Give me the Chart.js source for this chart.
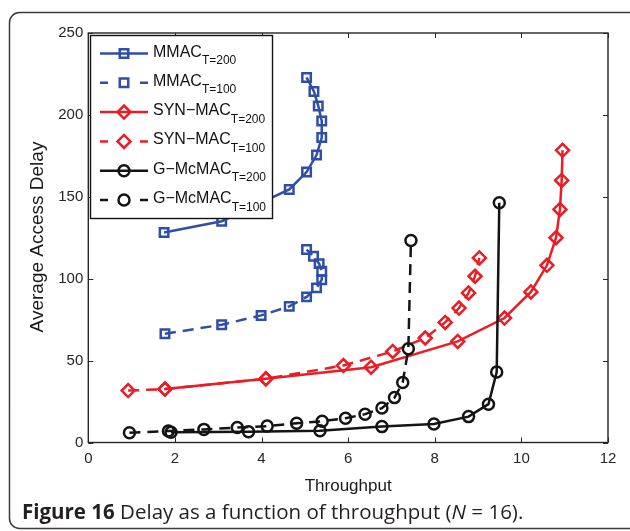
<!DOCTYPE html>
<html>
<head>
<meta charset="utf-8">
<style>
  html, body { margin: 0; padding: 0; background: #fff; }
  #wrap { position: relative; width: 630px; height: 531px; }
</style>
<script src="https://cdn.jsdelivr.net/npm/chart.js@4/dist/chart.umd.min.js"></script>
</head>
<body>
<div id="wrap"><canvas id="delayChart" width="630" height="531"></canvas></div>
<script>
// values (throughput, delay)
const mmac200X = [1.75, 3.08, 4.64, 5.04, 5.27, 5.39, 5.39, 5.31, 5.21, 5.04];
const mmac200Y = [128.2, 135.1, 154.5, 165.1, 175.5, 186.2, 196.3, 205.5, 214.3, 222.9];
const mmac100X = [1.77, 3.08, 3.99, 4.64, 5.04, 5.27, 5.39, 5.39, 5.33, 5.20, 5.04];
const mmac100Y = [66.4, 71.9, 77.6, 83.1, 88.9, 94.4, 99.4, 104.5, 109.2, 113.7, 117.8];
const syn200X = [1.77, 4.10, 6.53, 8.53, 9.61, 10.22, 10.59, 10.80, 10.89, 10.93, 10.95];
const syn200Y = [32.6, 38.9, 46.0, 61.7, 76.0, 91.9, 108.2, 125.0, 142.3, 160.0, 178.4];
const syn100X = [0.92, 1.77, 4.10, 5.89, 7.03, 7.78, 8.24, 8.56, 8.78, 8.93, 9.03];
const syn100Y = [31.7, 32.6, 38.9, 47.0, 55.6, 63.8, 73.3, 82.1, 91.3, 101.5, 112.7];
const gm200X = [1.91, 3.70, 5.35, 6.78, 7.98, 8.78, 9.24, 9.43, 9.49];
const gm200Y = [6.3, 6.6, 7.2, 9.7, 11.3, 15.8, 23.4, 43.0, 146.4];
const gm100X = [0.95, 1.85, 2.67, 3.44, 4.13, 4.81, 5.40, 5.94, 6.39, 6.78, 7.07, 7.26, 7.39, 7.45];
const gm100Y = [6.0, 7.0, 8.0, 9.1, 10.0, 11.7, 13.0, 14.8, 17.3, 21.0, 27.4, 36.6, 57.2, 123.3];

const seriesNames = ['MMAC', 'MMAC', 'SYN\u2212MAC', 'SYN\u2212MAC', 'G\u2212McMAC', 'G\u2212McMAC'];
const seriesSubs = ['T=200', 'T=100', 'T=200', 'T=100', 'T=200', 'T=100'];
const xTicks = [0, 2, 4, 6, 8, 10, 12];
const yTicks = [0, 50, 100, 150, 200, 250];

const BLUE = '#2f4ea8', RED = '#ec1c24', BLACK = '#141414';
const DASH = [11, 7];

function pts(xs, ys) {
  return xs.map(function (v, i) { return { x: v, y: ys[i] }; });
}

function series(idx, xs, ys, color, style, radius, dashed) {
  return {
    label: seriesNames[idx] + ' ' + seriesSubs[idx],
    data: pts(xs, ys),
    borderColor: color,
    backgroundColor: 'rgba(0,0,0,0)',
    borderWidth: 2.5,
    borderDash: dashed ? DASH : [],
    pointStyle: style,
    pointRadius: radius,
    pointBorderWidth: 2.5,
    pointBorderColor: color,
    pointBackgroundColor: 'rgba(0,0,0,0)',
    tension: 0,
    order: 6 - idx
  };
}

const datasets = [
  series(0, mmac200X, mmac200Y, BLUE, 'rect', 6, false),
  series(1, mmac100X, mmac100Y, BLUE, 'rect', 6, true),
  series(2, syn200X, syn200Y, RED, 'rectRot', 6.5, false),
  series(3, syn100X, syn100Y, RED, 'rectRot', 6.5, true),
  series(4, gm200X, gm200Y, BLACK, 'circle', 5.5, false),
  series(5, gm100X, gm100Y, BLACK, 'circle', 5.5, true)
];

const FONT = '"Liberation Sans", Arial, sans-serif';

// box, inward ticks, legend with subscripts, titles, caption, outer frame
const decor = {
  id: 'decor',
  afterDraw(chart) {
    const ctx = chart.ctx;
    const a = chart.chartArea;
    const xs = chart.scales.x, ys = chart.scales.y;
    ctx.save();

    ctx.strokeStyle = '#262626';
    ctx.lineWidth = 1.4;
    ctx.strokeRect(a.left, a.top, a.right - a.left, a.bottom - a.top);
    ctx.lineWidth = 1;
    ctx.beginPath();
    xTicks.forEach(function (t) {
      const px = Math.round(xs.getPixelForValue(t)) + 0.5;
      ctx.moveTo(px, a.bottom); ctx.lineTo(px, a.bottom - 5);
      ctx.moveTo(px, a.top); ctx.lineTo(px, a.top + 5);
    });
    yTicks.forEach(function (t) {
      const py = Math.round(ys.getPixelForValue(t)) + 0.5;
      ctx.moveTo(a.left, py); ctx.lineTo(a.left + 5, py);
      ctx.moveTo(a.right, py); ctx.lineTo(a.right - 5, py);
    });
    ctx.stroke();

    // legend
    const lx = 90.5, ly = 35.5, lw = 182, lh = 183;
    ctx.fillStyle = '#fff';
    ctx.fillRect(lx, ly, lw, lh);
    ctx.strokeStyle = '#111';
    ctx.lineWidth = 1.4;
    ctx.strokeRect(lx, ly, lw, lh);
    chart.data.datasets.forEach(function (ds, i) {
      const ry = 53.5 + i * 29.3;
      ctx.strokeStyle = ds.borderColor;
      ctx.lineWidth = 2.5;
      ctx.beginPath();
      if (ds.borderDash.length) {
        ctx.moveTo(100, ry); ctx.lineTo(108, ry);
        ctx.moveTo(140, ry); ctx.lineTo(148, ry);
      } else {
        ctx.moveTo(100, ry); ctx.lineTo(148, ry);
      }
      ctx.stroke();
      ctx.fillStyle = 'rgba(0,0,0,0)';
      Chart.helpers.drawPoint(ctx, {
        pointStyle: ds.pointStyle, radius: ds.pointRadius, rotation: 0, borderWidth: 2.5
      }, 124, ry);
      ctx.fillStyle = '#111';
      ctx.textBaseline = 'alphabetic';
      ctx.textAlign = 'left';
      ctx.font = '16px ' + FONT;
      ctx.fillText(seriesNames[i], 153, ry + 3);
      const w = ctx.measureText(seriesNames[i]).width;
      ctx.font = '12px ' + FONT;
      ctx.fillText(seriesSubs[i], 153 + w, ry + 10.5);
    });

    // axis titles
    ctx.fillStyle = '#1a1a1a';
    ctx.textAlign = 'center';
    ctx.textBaseline = 'middle';
    ctx.font = '17px ' + FONT;
    ctx.fillText('Throughput', (a.left + a.right) / 2, 486);
    ctx.save();
    ctx.translate(38, 237);
    ctx.rotate(-Math.PI / 2);
    ctx.font = '19px ' + FONT;
    ctx.fillText('Average Access Delay', 0, 0);
    ctx.restore();

    // caption
    ctx.textAlign = 'left';
    ctx.textBaseline = 'alphabetic';
    ctx.fillStyle = '#231f20';
    let cx = 22;
    const cy = 519;
    const parts = [
      ['bold 20.5px "Open Sans", sans-serif', 'Figure 16'],
      ['20.5px "Open Sans", sans-serif', ' Delay as a function of throughput ('],
      ['italic 20.5px "Open Sans", sans-serif', 'N'],
      ['20.5px "Open Sans", sans-serif', ' = 16).']
    ];
    parts.forEach(function (p) {
      ctx.font = p[0];
      ctx.fillText(p[1], cx, cy);
      cx += ctx.measureText(p[1]).width;
    });

    // outer rounded frame
    ctx.strokeStyle = '#3a3a3a';
    ctx.lineWidth = 1.5;
    ctx.beginPath();
    ctx.roundRect(9.5, 12.5, 640, 516, 10);
    ctx.stroke();
    ctx.restore();
  }
};

new Chart(document.getElementById('delayChart'), {
  type: 'line',
  data: { datasets: datasets },
  options: {
    responsive: false,
    animation: false,
    layout: { padding: { left: 0, right: 22, top: 33, bottom: 0 } },
    plugins: { legend: { display: false }, tooltip: { enabled: false } },
    scales: {
      x: {
        type: 'linear', min: 0, max: 12,
        afterFit: function (s) { s.height = 88.5; },
        afterBuildTicks: function (s) { s.ticks = xTicks.map(function (v) { return { value: v }; }); },
        grid: { display: false, drawTicks: false },
        border: { display: false },
        ticks: { color: '#262626', padding: 7, font: { size: 15, family: FONT } }
      },
      y: {
        type: 'linear', min: 0, max: 250,
        afterFit: function (s) { s.width = 88.3; },
        afterBuildTicks: function (s) { s.ticks = yTicks.map(function (v) { return { value: v }; }); },
        grid: { display: false, drawTicks: false },
        border: { display: false },
        ticks: { color: '#262626', padding: 5, font: { size: 15, family: FONT } }
      }
    }
  },
  plugins: [decor]
});
</script>
</body>
</html>
